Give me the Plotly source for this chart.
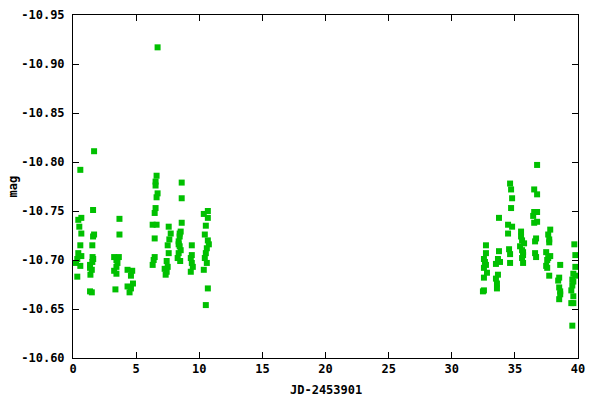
import plotly.graph_objects as go

jd = [
    0.24, 0.34, 0.42, 0.66, 0.50, 0.66, 0.58, 0.42, 0.66, 0.58, 0.34, 0.58,
    1.67, 1.59, 1.67, 1.59, 1.53, 1.55, 1.60, 1.53, 1.35, 1.35, 1.49, 1.38, 1.35, 1.49,
    3.68, 3.68, 3.26, 3.63, 3.44, 3.52, 3.44, 3.26, 3.44, 3.36,
    4.32, 4.69, 4.59, 4.75, 4.32, 4.59, 4.48,
    6.70, 6.62, 6.54, 6.54, 6.70, 6.62, 6.54, 6.47, 6.31, 6.62, 6.47, 6.47, 6.39, 6.31,
    7.58, 7.74, 7.63, 7.50, 7.58, 7.42, 7.50, 7.26, 7.42, 7.34,
    8.61, 8.61, 8.61, 8.53, 8.45, 8.37, 8.45, 8.53, 8.37, 8.29, 8.49, 8.45, 8.37,
    9.41, 9.41, 9.33, 9.41, 9.49, 9.33,
    10.68, 10.36, 10.68, 10.52, 10.44, 10.68, 10.76, 10.60, 10.52, 10.44, 10.60, 10.36, 10.68, 10.52,
    32.71, 32.71, 32.55, 32.63, 32.71, 32.55, 32.79, 32.55, 32.47, 32.55,
    33.74, 33.74, 33.66, 33.82, 33.50, 33.66, 33.50, 33.58, 33.58,
    34.62, 34.70, 34.78, 34.70, 34.46, 34.78, 34.46, 34.54, 34.62, 34.62,
    35.49, 35.49, 35.57, 35.41, 35.57, 35.65, 35.65, 35.73, 35.65, 35.57,
    36.76, 36.53, 36.76, 36.53, 36.76, 36.45, 36.53, 36.76, 36.68, 36.60, 36.60, 36.68,
    37.80, 37.64, 37.72, 37.72, 37.48, 37.80, 37.64, 37.56, 37.48, 37.56, 37.72,
    38.59, 38.51, 38.43, 38.51, 38.59, 38.59, 38.51,
    39.71, 39.79, 39.79, 39.63, 39.79, 39.55, 39.63, 39.55, 39.47, 39.63, 39.47, 39.63, 39.55,
]
mag = [
    -10.697, -10.701, -10.741, -10.743, -10.734, -10.727, -10.715, -10.707, -10.704, -10.694, -10.683, -10.792,
    -10.811, -10.751, -10.726, -10.724, -10.715, -10.703, -10.701, -10.698, -10.695, -10.692, -10.690, -10.685, -10.668, -10.667,
    -10.742, -10.726, -10.703, -10.703, -10.700, -10.697, -10.693, -10.689, -10.686, -10.670,
    -10.690, -10.689, -10.684, -10.676, -10.673, -10.671, -10.667,
    -10.917, -10.786, -10.780, -10.776, -10.768, -10.764, -10.753, -10.748, -10.736, -10.736, -10.722, -10.703, -10.700, -10.695,
    -10.734, -10.727, -10.721, -10.715, -10.707, -10.699, -10.693, -10.691, -10.688, -10.685,
    -10.779, -10.763, -10.738, -10.729, -10.724, -10.719, -10.714, -10.710, -10.707, -10.702, -10.699, -10.727, -10.716,
    -10.715, -10.705, -10.702, -10.697, -10.693, -10.688,
    -10.750, -10.747, -10.743, -10.735, -10.726, -10.720, -10.716, -10.712, -10.707, -10.702, -10.697, -10.690, -10.671, -10.654,
    -10.715, -10.707, -10.701, -10.698, -10.695, -10.692, -10.687, -10.682, -10.668, -10.669,
    -10.743, -10.709, -10.701, -10.698, -10.696, -10.685, -10.681, -10.676, -10.671,
    -10.778, -10.772, -10.763, -10.753, -10.736, -10.734, -10.727, -10.711, -10.706, -10.697,
    -10.729, -10.724, -10.720, -10.714, -10.710, -10.705, -10.697, -10.717, -10.708, -10.702,
    -10.797, -10.772, -10.767, -10.749, -10.749, -10.745, -10.738, -10.739, -10.722, -10.719, -10.707, -10.703,
    -10.731, -10.726, -10.721, -10.718, -10.708, -10.704, -10.702, -10.700, -10.694, -10.692, -10.684,
    -10.695, -10.682, -10.679, -10.672, -10.668, -10.665, -10.660,
    -10.716, -10.705, -10.693, -10.686, -10.684, -10.680, -10.678, -10.674, -10.669, -10.663, -10.656, -10.656, -10.633,
]

x_ticks = [0, 5, 10, 15, 20, 25, 30, 35, 40]
y_ticks = [-10.95, -10.90, -10.85, -10.80, -10.75, -10.70, -10.65, -10.60]

FONT = dict(family="DejaVu Sans Mono", size=12, color="black", weight="bold")

fig = go.Figure(
    go.Scatter(
        x=jd, y=mag, mode="markers",
        marker=dict(symbol="square", size=6, color="#00c000", line=dict(width=0)),
    )
)

axis_common = dict(
    showline=True, linecolor="black", linewidth=1, mirror="allticks",
    ticks="inside", ticklen=6, tickcolor="black", tickwidth=1,
    showgrid=False, zeroline=False, tickfont=FONT, automargin=False,
)

fig.update_layout(
    width=600, height=400,
    margin=dict(l=73, r=22, t=15, b=42),
    paper_bgcolor="white", plot_bgcolor="white",
    showlegend=False,
    font=FONT,
    xaxis=dict(range=[0, 40], tickvals=x_ticks, ticktext=[str(v) for v in x_ticks],
               **axis_common),
    yaxis=dict(range=[-10.60, -10.95], tickvals=y_ticks,
               ticktext=[f"{v:.2f}" for v in y_ticks], ticklabelstandoff=5,
               **axis_common),
    annotations=[
        dict(text="JD-2453901", xref="paper", yref="paper", x=0.5, y=0,
             yshift=-32, showarrow=False, font=FONT, xanchor="center", yanchor="middle"),
        dict(text="mag", xref="paper", yref="paper", x=0, y=0.5,
             xshift=-61, showarrow=False, font=FONT, textangle=-90,
             xanchor="center", yanchor="middle"),
    ],
)

fig.write_html(
    "out.html",
    config={"displayModeBar": False},
    post_script="document.body.style.margin='0';document.body.style.overflow='hidden';",
)
